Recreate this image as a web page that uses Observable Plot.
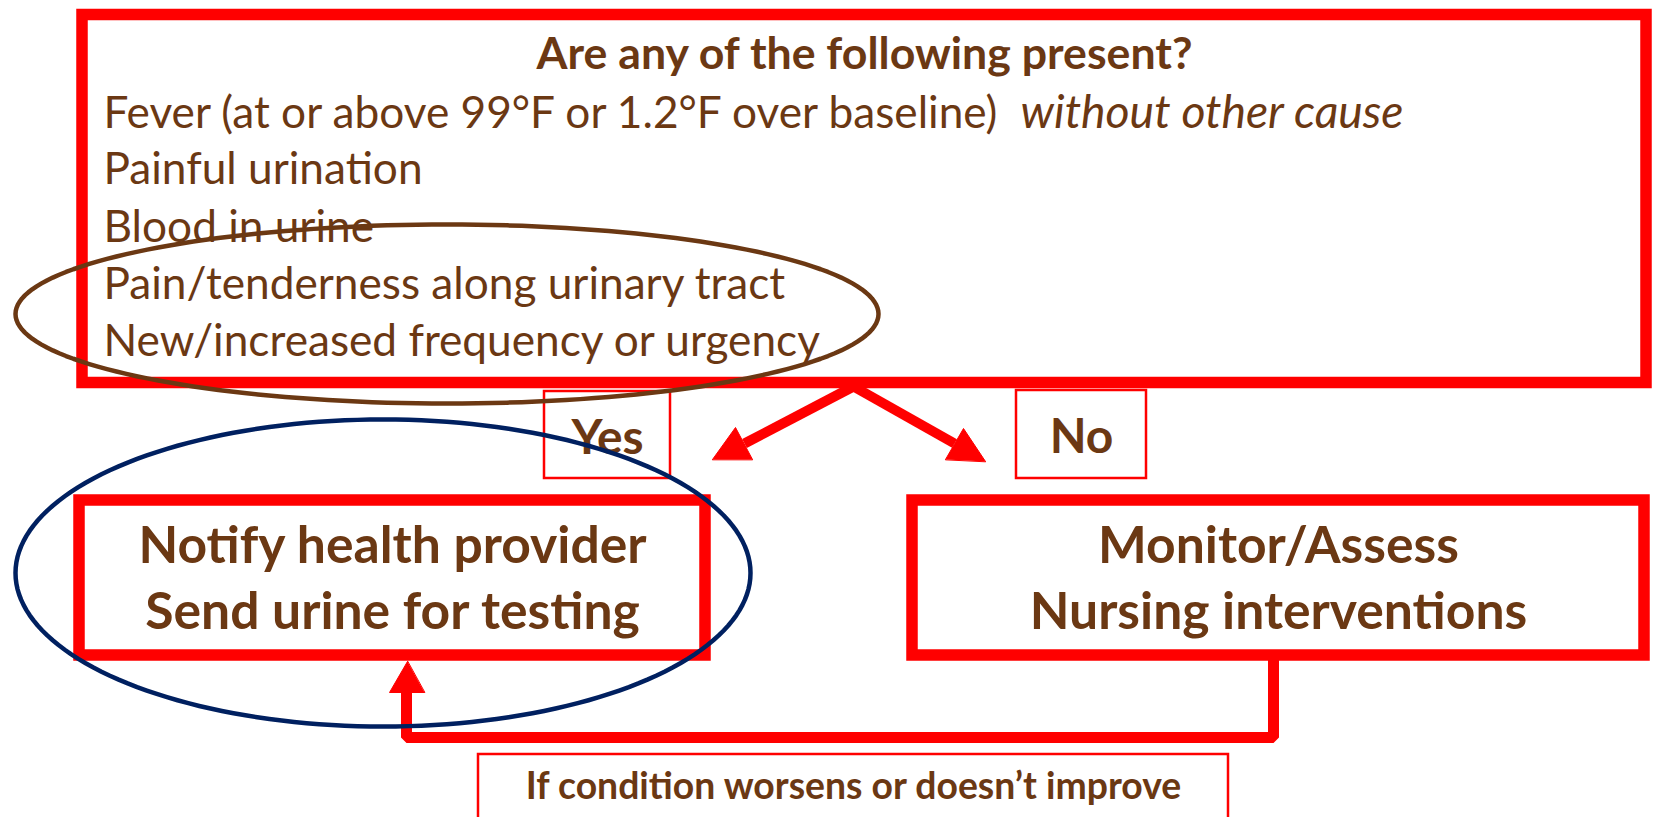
<!DOCTYPE html>
<html>
<head>
<meta charset="utf-8">
<script src="https://cdn.jsdelivr.net/npm/d3@7"></script>
<script src="https://cdn.jsdelivr.net/npm/@observablehq/plot@0.6"></script>
<style>
  html, body { margin: 0; padding: 0; background: #ffffff; overflow: hidden; }
  #chart svg { display: block; }
</style>
</head>
<body>
<div id="chart"></div>
<script>
// ---------------- DATA (text content of the flowchart) ----------------
const question = "Are any of the following present?";
const symptoms = [
  "Fever (at or above 99°F or 1.2°F over baseline)",
  "Painful urination",
  "Blood in urine",
  "Pain/tenderness along urinary tract",
  "New/increased frequency or urgency"
];
const feverQualifier = "without other cause";
const branchLabels = ["Yes", "No"];
const actionLines = [
  ["Notify health provider", "Send urine for testing"],
  ["Monitor/Assess", "Nursing interventions"]
];
const feedbackNote = "If condition worsens or doesn’t improve";

// ---------------- LAYOUT (positions, in page pixels) ----------------
const W = 1663, H = 817;
const RED = "#ff0000", BROWN = "#6b3813", NAVY = "#002060";
const FONT = "Lato";

const boxes = [
  {id: "question", x1: 82,   y1: 14.5, x2: 1646, y2: 382.5, sw: 12},
  {id: "yes",      x1: 544,  y1: 391,  x2: 670,  y2: 478,   sw: 2.5},
  {id: "no",       x1: 1016, y1: 390,  x2: 1146, y2: 478,   sw: 2.5},
  {id: "action0",  x1: 79,   y1: 500,  x2: 705,  y2: 655,   sw: 11},
  {id: "action1",  x1: 912,  y1: 500,  x2: 1644, y2: 655,   sw: 11},
  {id: "note",     x1: 478,  y1: 754,  x2: 1228, y2: 845,   sw: 2.5}
];
const thickBoxes = boxes.filter(b => b.sw > 5);
const thinBoxes = boxes.filter(b => b.sw <= 5);

const titlePos = {x: 864, y: 68, width: 658};
const bodyX = 103;
const bodyBaselines = [127, 183.5, 241, 298, 355];
const bodyWidths = [900, 318, 268, 688, 717];
const qualifierPos = {x: 1020, width: 384};
const branchPos = [{x: 607, y: 453, width: 74}, {x: 1081, y: 452, width: 62}];
const actionCenters = [392, 1278];
const actionBaselines = [562, 628];
const actionWidths = [[510, 498], [360, 496]];
const notePos = {x: 853, y: 798, width: 658};

// connector shafts (polylines) and filled arrow heads
const shafts = [
  {id: "toYes", pts: [[853, 386], [744, 443]], sw: 10},
  {id: "toNo", pts: [[853, 386], [954, 443]], sw: 10},
  {id: "feedback", pts: [[1273, 652], [1273, 737], [406, 737], [406, 692]], sw: 11}
];
const heads = [
  {id: "toYes", pts: [[712, 459], [735, 427], [752, 459]]},
  {id: "toNo", pts: [[985, 461], [963, 428], [945, 459]]},
  {id: "feedback", pts: [[407, 661], [389, 692], [424, 692]]}
];
const ellipses = [
  {id: "urinary", cx: 446.5, cy: 313.5, rx: 431.5, ry: 89.5, color: BROWN},
  {id: "notify",  cx: 382.5, cy: 572.5, rx: 367.5, ry: 153.5, color: NAVY}
];

// ---------------- font-size fitting (Lato stands in for Calibri) ----------------
const ctx = document.createElement("canvas").getContext("2d");
function measure(text, weight = "normal", style = "normal", size = 100) {
  ctx.font = `${style} ${weight} ${size}px ${FONT}`;
  return ctx.measureText(text).width;
}
function fit(text, width, weight, style) { return 100 * width / measure(text, weight, style); }
function fitAll(texts, widths, weight, style) {
  const total = texts.reduce((s, t) => s + measure(t, weight, style), 0);
  return 100 * widths.reduce((s, w) => s + w, 0) / total;
}

const titleSize = fit(question, titlePos.width, "bold");
const bodySize = fitAll(symptoms, bodyWidths, "normal");
const qualifierSize = fit(feverQualifier, qualifierPos.width, "normal", "italic");
const branchSize = fitAll(branchLabels, branchPos.map(d => d.width), "bold");
const actionSize = fitAll(actionLines.flat(), actionWidths.flat(), "bold");
const noteSize = fit(feedbackNote, notePos.width, "bold");

// ---------------- tables for the marks ----------------
const bodyRows = symptoms.map((t, i) => ({text: t, x: bodyX, y: bodyBaselines[i]}));
const branchRows = branchLabels.map((t, i) => ({text: t, x: branchPos[i].x, y: branchPos[i].y}));
const actionRows = actionLines.flatMap((lines, i) => lines.map((t, j) => ({text: t, x: actionCenters[i], y: actionBaselines[j]})));
const shaftPts = shafts.flatMap(s => s.pts.map(([x, y]) => ({id: s.id, x, y, sw: s.sw})));
const headPts = heads.flatMap(h => h.pts.map(([x, y]) => ({id: h.id, x, y})));
const ellipsePts = e => d3.range(0, 361, 2).map(a => ({
  x: e.cx + e.rx * Math.cos(a * Math.PI / 180),
  y: e.cy + e.ry * Math.sin(a * Math.PI / 180)
}));

const txt = {fill: BROWN, fontFamily: FONT, lineAnchor: "bottom"};

const chart = Plot.plot({
  width: W,
  height: H,
  margin: 0,
  x: {domain: [0, W], range: [0, W], axis: null},
  y: {domain: [0, H], range: [0, H], axis: null},
  style: {background: "#ffffff"},
  marks: [
    Plot.rect(thickBoxes, {x1: "x1", x2: "x2", y1: "y1", y2: "y2", fill: "#ffffff", stroke: RED, strokeWidth: 11.5}),
    Plot.rect(thinBoxes, {x1: "x1", x2: "x2", y1: "y1", y2: "y2", fill: "#ffffff", stroke: RED, strokeWidth: 2.5}),
    // question box text
    Plot.text([question], {...txt, x: titlePos.x, y: titlePos.y, text: d => d, fontWeight: "bold", fontSize: titleSize, textAnchor: "middle"}),
    Plot.text(bodyRows, {...txt, x: "x", y: "y", text: "text", fontSize: bodySize, textAnchor: "start"}),
    Plot.text([feverQualifier], {...txt, x: qualifierPos.x, y: bodyBaselines[0], text: d => d, fontSize: qualifierSize, fontStyle: "italic", textAnchor: "start"}),
    // branch labels
    Plot.text(branchRows, {...txt, x: "x", y: "y", text: "text", fontWeight: "bold", fontSize: branchSize, textAnchor: "middle"}),
    // action boxes
    Plot.text(actionRows, {...txt, x: "x", y: "y", text: "text", fontWeight: "bold", fontSize: actionSize, textAnchor: "middle"}),
    // feedback note
    Plot.text([feedbackNote], {...txt, x: notePos.x, y: notePos.y, text: d => d, fontWeight: "bold", fontSize: noteSize, textAnchor: "middle"}),
    // connectors
    Plot.line(shaftPts.filter(d => d.sw === 10), {x: "x", y: "y", z: "id", stroke: RED, strokeWidth: 10, strokeLinecap: "butt"}),
    Plot.line(shaftPts.filter(d => d.sw === 11), {x: "x", y: "y", z: "id", stroke: RED, strokeWidth: 11, strokeLinejoin: "miter", strokeLinecap: "butt"}),
    Plot.line(headPts, {x: "x", y: "y", z: "id", fill: RED, stroke: RED, strokeWidth: 1, curve: "linear-closed"}),
    // highlight ellipses
    Plot.line(ellipsePts(ellipses[0]), {x: "x", y: "y", stroke: ellipses[0].color, strokeWidth: 4.5, curve: "linear-closed"}),
    Plot.line(ellipsePts(ellipses[1]), {x: "x", y: "y", stroke: ellipses[1].color, strokeWidth: 4.5, curve: "linear-closed"})
  ]
});
document.getElementById("chart").append(chart);
</script>
</body>
</html>
